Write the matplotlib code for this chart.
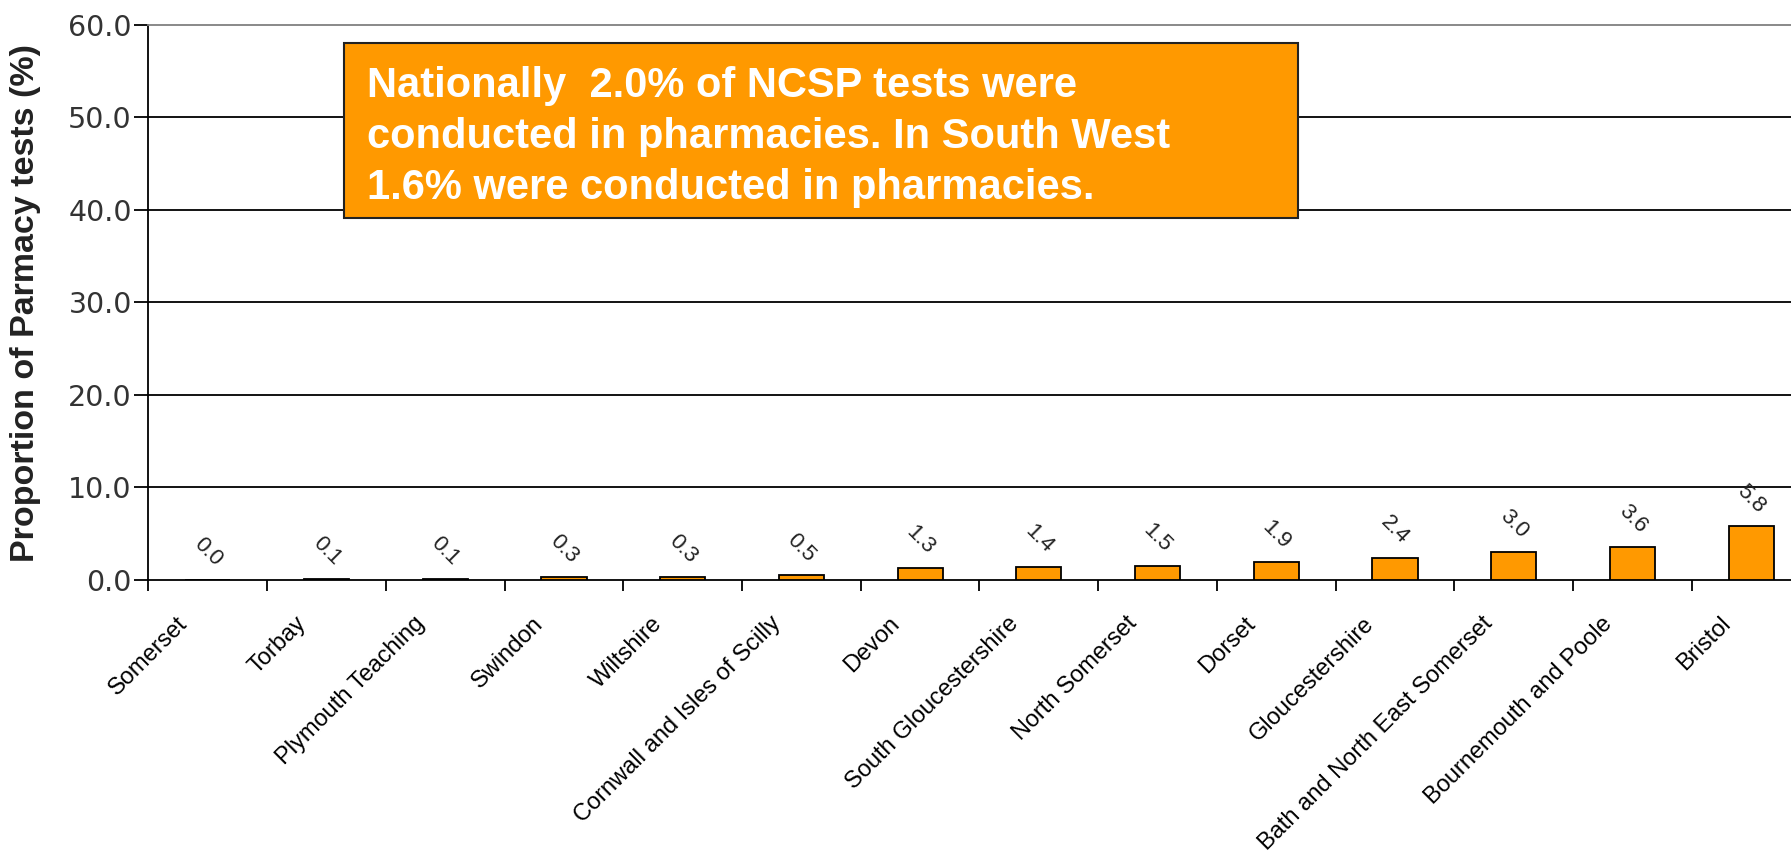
"""
Proportion of NCSP tests done in pharmacies, South West PCTs.
"""

import matplotlib
matplotlib.use('Agg')  # noqa: E402
import matplotlib.pyplot as plt  # noqa: E402
import matplotlib.transforms as mtransforms  # noqa: E402
from matplotlib.patches import Rectangle  # noqa: E402
import numpy as np  # noqa: E402

# -- Data ---------------------------------------------------------------------
PCTS = ['Somerset', 'Torbay', 'Plymouth Teaching', 'Swindon', 'Wiltshire',
        'Cornwall and Isles of Scilly', 'Devon', 'South Gloucestershire',
        'North Somerset', 'Dorset', 'Gloucestershire',
        'Bath and North East Somerset', 'Bournemouth and Poole', 'Bristol']
PHARMACY_PCT = [0.0, 0.1, 0.1, 0.3, 0.3, 0.5, 1.3, 1.4, 1.5, 1.9, 2.4, 3.0, 3.6, 5.8]
Y_TICKS = [0, 10, 20, 30, 40, 50, 60]

NOTE = ('Nationally  2.0% of NCSP tests were\n'
        'conducted in pharmacies. In South West\n'
        '1.6% were conducted in pharmacies.')

# -- Style --------------------------------------------------------------------
ORANGE = '#FF9900'
BLACK = '#000000'
GREY = '#808080'
TICK_TXT = '#333333'
FONT = 'Liberation Sans'

plt.rcParams['font.family'] = [FONT, 'DejaVu Sans']

fig = plt.figure(figsize=(17.91, 8.59), dpi=100, facecolor='white')
ax = fig.add_axes([0.0829, 0.3248, 0.928, 0.6461])

x = np.arange(len(PCTS))
ax.bar(x, PHARMACY_PCT, width=0.38, color=ORANGE, edgecolor=BLACK,
       linewidth=1.3, zorder=3)

# value labels, tilted the Excel way
for xi, v in zip(x, PHARMACY_PCT):
    ax.text(xi, v + 3.0, f'{v:.1f}', rotation=-45, ha='center', va='center',
            fontsize=16, color='#222222', rotation_mode='anchor', zorder=4)

ax.set_xlim(-0.5, len(PCTS) - 0.5)
ax.set_ylim(0, 60)

# gridlines (black, like the original)
for t in Y_TICKS[1:-1]:
    ax.axhline(t, color=BLACK, linewidth=1.3, zorder=1)

ax.set_yticks(Y_TICKS)
ax.set_yticklabels([f'{t:.1f}' for t in Y_TICKS], fontsize=20.5, color=TICK_TXT,
                   family='DejaVu Sans')
ax.tick_params(axis='y', direction='out', length=10, width=1.3, pad=2)

# ticks between categories, labels at centres
ax.set_xticks(np.arange(len(PCTS) + 1) - 0.5)
ax.set_xticklabels([])
ax.tick_params(axis='x', which='major', direction='out', length=8, width=1.3)
ax.set_xticks(x, minor=True)
ax.set_xticklabels(PCTS, minor=True, rotation=45, ha='right', va='center',
                   rotation_mode='anchor', fontsize=17, color=BLACK)
ax.tick_params(axis='x', which='minor', length=0, pad=29)
shift = mtransforms.ScaledTranslation(-0.24, 0, fig.dpi_scale_trans)
for lbl in ax.get_xticklabels(minor=True):
    lbl.set_transform(lbl.get_transform() + shift)

ax.spines['left'].set_linewidth(1.3)
ax.spines['bottom'].set_linewidth(1.3)
ax.spines['top'].set_color(GREY)
ax.spines['top'].set_linewidth(1.3)
ax.spines['right'].set_visible(False)

fig.text(0.014, 0.6476, 'Proportion of Parmacy tests (%)', rotation=90,
         ha='center', va='center', fontsize=24.5, fontweight='bold', color='#222222')

# orange note box
fig.add_artist(Rectangle((0.1921, 0.7462), 0.5324, 0.2038, transform=fig.transFigure,
                         facecolor=ORANGE, edgecolor='#222222', linewidth=1.5, zorder=5))
fig.text(0.2049, 0.9231, NOTE, ha='left', va='top', fontsize=30,
         fontweight='bold', color='white', linespacing=1.35, zorder=6)

fig.savefig('out.png', dpi=100, facecolor='white')
